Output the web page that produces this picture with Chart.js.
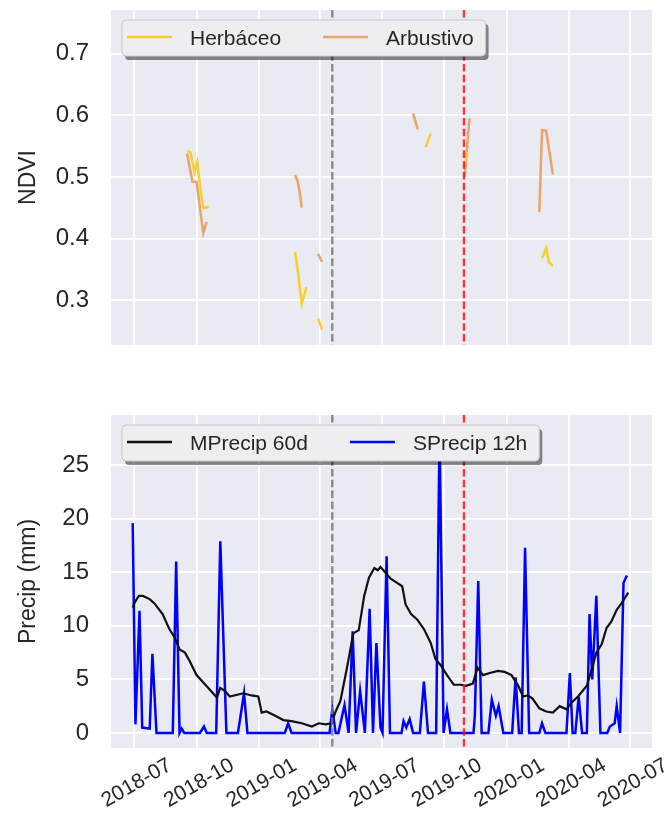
<!DOCTYPE html>
<html>
<head>
<meta charset="utf-8">
<script src="https://cdn.jsdelivr.net/npm/chart.js@4.4.0/dist/chart.umd.min.js"></script>
<style>
  html, body { margin: 0; padding: 0; background: #fff; }
  #wrap { position: relative; width: 665px; height: 824px; }
  #wrap canvas { position: absolute; left: 0; }
  #grafica_ndvi { top: 0; }
  #grafica_precip { top: 370px; }
</style>
</head>
<body>
<div id="wrap">
  <canvas id="grafica_ndvi" width="665" height="370"></canvas>
  <canvas id="grafica_precip" width="665" height="454"></canvas>
</div>
<script>
/*-----Datos-----*/

const meses = ['2018-07', '2018-10', '2019-01', '2019-04', '2019-07', '2019-10', '2020-01', '2020-04', '2020-07'];
const ndviTicks = [0.3, 0.4, 0.5, 0.6, 0.7];
const precipTicks = [0, 5, 10, 15, 20, 25];
const fechaGris = '2019-04-19';
const fechaRoja = '2019-10-30';

// Herbáceo (null = hueco entre tramos)
const herbFechas = ['2018-09-17', '2018-09-22', '2018-09-28', '2018-10-02', '2018-10-08', '2018-10-11', '2018-10-19', '2018-12-01',
  '2019-02-23', '2019-02-27', '2019-03-05', '2019-03-12', '2019-03-20',
  '2019-03-29', '2019-04-04', '2019-06-01',
  '2019-09-04', '2019-09-06', '2019-09-11', '2019-10-01',
  '2019-11-02', '2019-11-04', '2019-12-15',
  '2020-02-22', '2020-02-28', '2020-03-03', '2020-03-09'];
const herbNdvi = [0.542, 0.540, 0.508, 0.524, 0.470, 0.449, 0.451, null,
  0.378, 0.349, 0.294, 0.321, null,
  0.270, 0.252, null,
  0.548, 0.556, 0.570, null,
  0.524, 0.541, null,
  0.368, 0.384, 0.362, 0.355];

// Arbustivo
const arbFechas = ['2018-09-17', '2018-09-25', '2018-10-01', '2018-10-11', '2018-10-16', '2018-12-01',
  '2019-02-23', '2019-02-27', '2019-03-02', '2019-03-05', '2019-03-20',
  '2019-03-29', '2019-04-04', '2019-06-01',
  '2019-08-16', '2019-08-23', '2019-10-01',
  '2019-10-31', '2019-11-07', '2019-12-15',
  '2020-02-18', '2020-02-22', '2020-02-28', '2020-03-09'];
const arbNdvi = [0.538, 0.492, 0.492, 0.409, 0.427, null,
  0.503, 0.493, 0.475, 0.450, null,
  0.375, 0.362, null,
  0.603, 0.577, null,
  0.500, 0.595, null,
  0.443, 0.576, 0.575, 0.504];

// MPrecip 60d
const mpFechas = ['2018-06-29', '2018-07-02', '2018-07-08', '2018-07-14', '2018-07-24', '2018-07-31', '2018-08-12', '2018-08-22',
  '2018-08-30', '2018-09-06', '2018-09-14', '2018-09-21', '2018-10-01', '2018-10-11', '2018-10-21', '2018-10-31',
  '2018-11-05', '2018-11-12', '2018-11-19', '2018-12-09', '2018-12-21', '2018-12-31', '2019-01-05', '2019-01-12',
  '2019-01-25', '2019-02-06', '2019-02-18', '2019-03-05', '2019-03-20', '2019-03-30', '2019-04-09', '2019-04-18',
  '2019-04-24', '2019-05-01', '2019-05-11', '2019-05-20', '2019-05-28', '2019-06-05', '2019-06-12', '2019-06-20',
  '2019-06-25', '2019-06-29', '2019-07-06', '2019-07-14', '2019-07-24', '2019-07-31', '2019-08-05', '2019-08-13',
  '2019-08-22', '2019-09-01', '2019-09-11', '2019-09-18', '2019-09-26', '2019-10-05', '2019-10-15', '2019-10-25',
  '2019-11-02', '2019-11-12', '2019-11-19', '2019-11-27', '2019-12-07', '2019-12-19', '2019-12-29', '2020-01-08',
  '2020-01-18', '2020-01-25', '2020-02-01', '2020-02-08', '2020-02-18', '2020-02-28', '2020-03-09', '2020-03-19',
  '2020-03-29', '2020-04-05', '2020-04-15', '2020-04-28', '2020-05-05', '2020-05-12', '2020-05-20', '2020-05-27',
  '2020-06-03', '2020-06-11', '2020-06-18', '2020-06-28'];
const mpValores = [11.7, 12.2, 12.8, 12.8, 12.5, 12.1, 11.1, 9.7,
  8.9, 7.8, 7.5, 6.7, 5.4, 4.7, 4.0, 3.3,
  4.2, 3.9, 3.4, 3.7, 3.5, 3.4, 1.9, 2.0,
  1.6, 1.2, 1.1, 0.9, 0.6, 0.9, 0.8, 0.9,
  2.0, 3.0, 6.2, 9.3, 9.6, 12.8, 14.5, 15.4,
  15.2, 15.5, 15.0, 14.4, 14.0, 13.7, 12.0, 11.1,
  10.6, 9.7, 8.4, 6.9, 6.3, 5.4, 4.5, 4.5,
  4.4, 4.6, 6.1, 5.4, 5.6, 5.8, 5.7, 5.4,
  4.4, 3.4, 3.5, 3.2, 2.3, 2.0, 1.9, 2.5,
  2.2, 2.8, 3.4, 4.4, 5.9, 7.5, 8.3, 9.8,
  10.4, 11.5, 12.1, 13.1];

// SPrecip 12h
const spFechas = ['2018-06-29', '2018-07-03', '2018-07-09', '2018-07-13', '2018-07-24', '2018-07-28', '2018-08-03', '2018-08-27',
  '2018-09-01', '2018-09-06', '2018-09-09', '2018-09-13', '2018-10-06', '2018-10-12', '2018-10-16', '2018-10-30',
  '2018-11-05', '2018-11-14', '2018-12-01', '2018-12-10', '2018-12-15', '2019-02-08', '2019-02-13', '2019-02-18',
  '2019-04-15', '2019-04-19', '2019-04-24', '2019-04-28', '2019-05-07', '2019-05-13', '2019-05-19', '2019-05-24',
  '2019-05-30', '2019-06-06', '2019-06-13', '2019-06-18', '2019-06-23', '2019-06-29', '2019-07-02', '2019-07-08',
  '2019-07-13', '2019-07-30', '2019-08-02', '2019-08-06', '2019-08-11', '2019-08-16', '2019-08-26', '2019-09-01',
  '2019-09-07', '2019-09-19', '2019-09-24', '2019-09-30', '2019-10-05', '2019-10-10', '2019-11-13', '2019-11-15',
  '2019-11-20', '2019-11-25', '2019-12-05', '2019-12-10', '2019-12-16', '2019-12-20', '2019-12-27', '2020-01-09',
  '2020-01-14', '2020-01-19', '2020-01-23', '2020-01-28', '2020-02-03', '2020-02-18', '2020-02-22', '2020-02-27',
  '2020-03-29', '2020-04-03', '2020-04-07', '2020-04-11', '2020-04-16', '2020-04-21', '2020-04-28', '2020-05-02',
  '2020-05-06', '2020-05-12', '2020-05-18', '2020-05-28', '2020-06-01', '2020-06-08', '2020-06-11', '2020-06-16',
  '2020-06-21', '2020-06-26'];
const spValores = [19.6, 0.8, 11.4, 0.5, 0.4, 7.4, 0, 0,
  16.0, 0, 0.4, 0, 0, 0.6, 0, 0,
  17.9, 0, 0, 3.7, 0, 0, 0.9, 0,
  0, 2.2, 0, 0, 2.6, 0, 9.5, 0,
  3.9, 0, 11.6, 0, 8.4, 0.5, 0, 16.5,
  0, 0, 1.1, 0.5, 1.3, 0, 0, 4.8,
  0, 0, 28.3, 0, 2.2, 0, 0, 1.6,
  14.2, 0, 0, 3.1, 1.6, 2.5, 0, 0,
  5.2, 0, 0, 17.3, 0, 0, 0.9, 0,
  0, 5.6, 0, 0, 3.4, 0, 0, 11.1,
  5.0, 12.8, 0, 0, 0.6, 0.9, 2.5, 0,
  14.0, 14.7];

/*-----Utilidades-----*/

const dia = s => Date.parse(s);
const puntos = (f, v) => f.map((d, i) => ({x: dia(d), y: v[i]}));
const xMin = dia('2018-05-28');
const xMax = dia('2020-08-02');
const fuente = "'Liberation Sans', Arial, sans-serif";
const gris = '#262626';

const fondo = {
  id: 'fondo',
  beforeDraw(chart) {
    const a = chart.chartArea, ctx = chart.ctx;
    ctx.save();
    ctx.fillStyle = '#EAEAF2';
    ctx.fillRect(a.left, a.top, a.right - a.left, a.bottom - a.top);
    ctx.restore();
  }
};

const marcas = {
  id: 'marcas',
  afterDatasetsDraw(chart) {
    const a = chart.chartArea, ctx = chart.ctx, x = chart.scales.x;
    [[fechaGris, 'rgba(120,120,120,0.85)'], [fechaRoja, 'rgba(255,20,20,0.85)']].forEach(([f, c]) => {
      const px = x.getPixelForValue(dia(f));
      ctx.save();
      ctx.strokeStyle = c;
      ctx.lineWidth = 2.4;
      ctx.setLineDash([7.5, 3.3]);
      ctx.beginPath();
      ctx.moveTo(px, a.top);
      ctx.lineTo(px, a.bottom);
      ctx.stroke();
      ctx.restore();
    });
  }
};

const leyenda = {
  id: 'leyenda',
  afterDraw(chart) {
    const a = chart.chartArea, ctx = chart.ctx;
    const bx = a.left + 11, by = a.top + 10, h = 36;
    ctx.save();
    ctx.font = '21px ' + fuente;
    let w = 5;
    chart.data.datasets.forEach((d, i) => {
      w += 45 + 18 + ctx.measureText(d.label).width + (i < chart.data.datasets.length - 1 ? 42 : 12);
    });
    const caja = (x, y) => {
      ctx.beginPath();
      ctx.roundRect(x, y, w, h, 4);
    };
    ctx.fillStyle = 'rgba(0,0,0,0.45)';
    caja(bx + 3, by + 4);
    ctx.fill();
    ctx.fillStyle = '#EDEDF2';
    ctx.strokeStyle = '#c8c8c8';
    ctx.lineWidth = 1;
    caja(bx, by);
    ctx.fill();
    ctx.stroke();
    let x = bx + 5;
    const cy = by + h / 2;
    chart.data.datasets.forEach(d => {
      ctx.strokeStyle = d.borderColor;
      ctx.lineWidth = 2.5;
      ctx.beginPath();
      ctx.moveTo(x, cy - 1);
      ctx.lineTo(x + 45, cy - 1);
      ctx.stroke();
      x += 45 + 18;
      ctx.fillStyle = gris;
      ctx.textBaseline = 'middle';
      ctx.fillText(d.label, x, cy + 1);
      x += ctx.measureText(d.label).width + 42;
    });
    ctx.restore();
  }
};

function ejeX(alto, mostrar) {
  return {
    type: 'linear',
    min: xMin,
    max: xMax,
    afterBuildTicks: s => { s.ticks = meses.map(m => ({value: dia(m + '-01')})); },
    afterFit: s => { s.height = alto; s.paddingLeft = 0; s.paddingRight = 0; },
    grid: {color: '#ffffff', lineWidth: 1.8, drawTicks: false},
    border: {display: false},
    ticks: {
      display: mostrar,
      autoSkip: false,
      minRotation: 30,
      maxRotation: 30,
      padding: 5,
      labelOffset: 36,
      color: gris,
      font: {family: fuente, size: 21},
      callback: v => meses[meses.findIndex(m => dia(m + '-01') === v)]
    }
  };
}

function ejeY(min, max, marcasY, titulo, decimales) {
  return {
    min: min,
    max: max,
    afterBuildTicks: s => { s.ticks = marcasY.map(v => ({value: v})); },
    afterFit: s => { s.width = 111; s.paddingTop = 0; s.paddingBottom = 0; },
    grid: {color: '#ffffff', lineWidth: 1.8, drawTicks: false},
    border: {display: false},
    ticks: {
      padding: 22,
      color: gris,
      font: {family: fuente, size: 24},
      callback: v => v.toFixed(decimales)
    },
    title: {
      display: true,
      text: titulo,
      color: gris,
      padding: {top: 15, bottom: 0},
      font: {family: fuente, size: 23}
    }
  };
}

/*-----Gráfica NDVI-----*/

new Chart(document.getElementById('grafica_ndvi'), {
  type: 'line',
  data: {
    datasets: [{
      label: 'Herbáceo',
      data: puntos(herbFechas, herbNdvi),
      borderColor: '#F7CF2A',
      borderWidth: 2.5
    },
    {
      label: 'Arbustivo',
      data: puntos(arbFechas, arbNdvi),
      borderColor: '#E9A46C',
      borderWidth: 2.5
    }]
  },
  options: {
    responsive: false,
    animation: false,
    spanGaps: false,
    elements: {point: {radius: 0}, line: {tension: 0}},
    layout: {padding: {top: 10, right: 13, left: 0, bottom: 0}},
    scales: {
      x: ejeX(25, false),
      y: ejeY(0.227, 0.771, ndviTicks, 'NDVI', 1)
    },
    plugins: {legend: {display: false}, tooltip: {enabled: false}}
  },
  plugins: [fondo, marcas, leyenda]
});

/*-----Gráfica precipitación-----*/

new Chart(document.getElementById('grafica_precip'), {
  type: 'line',
  data: {
    datasets: [{
      label: 'MPrecip 60d',
      data: puntos(mpFechas, mpValores),
      borderColor: '#111111',
      borderWidth: 2.2
    },
    {
      label: 'SPrecip 12h',
      data: puntos(spFechas, spValores),
      borderColor: '#0000FF',
      borderWidth: 2.5
    }]
  },
  options: {
    responsive: false,
    animation: false,
    elements: {point: {radius: 0}, line: {tension: 0}},
    layout: {padding: {top: 45, right: 13, left: 0, bottom: 0}},
    scales: {
      x: ejeX(76, true),
      y: ejeY(-1.41, 29.7, precipTicks, 'Precip (mm)', 0)
    },
    plugins: {legend: {display: false}, tooltip: {enabled: false}}
  },
  plugins: [fondo, marcas, leyenda]
});
</script>
</body>
</html>
